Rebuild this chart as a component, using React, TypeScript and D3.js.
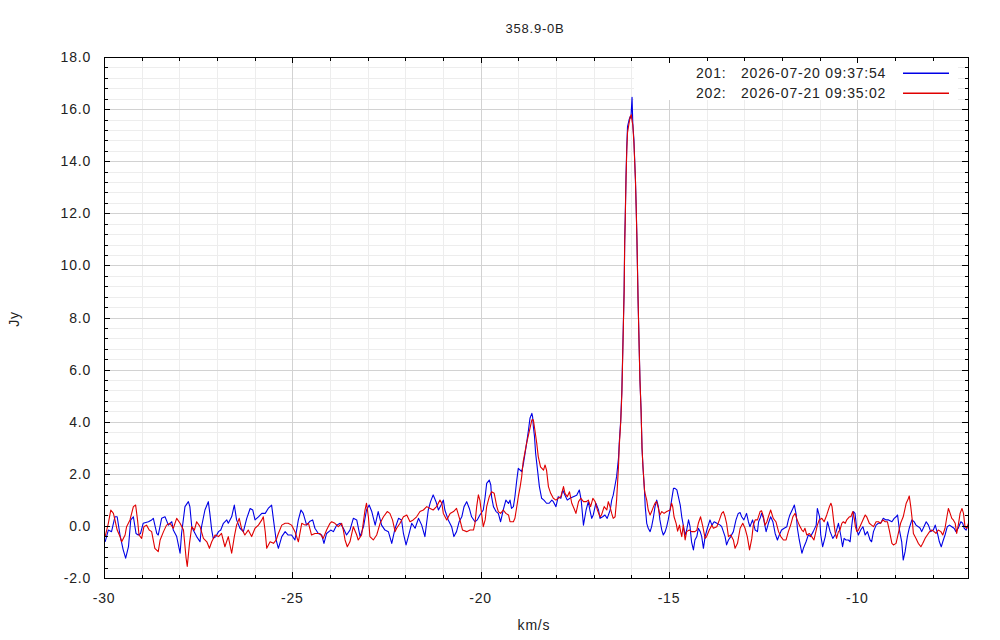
import { useRef, useEffect } from "react";
import * as d3 from "d3";

const WIDTH = 1000;
const HEIGHT = 640;
const PLOT = { left: 104, right: 968, top: 57, bottom: 578 };
const KEY_BOX = { left: 634, right: 958, top: 57, bottom: 100 };
const FONT = "'Liberation Sans', Arial, sans-serif";

const TITLE = "358.9-0B";
const X_LABEL = "km/s";
const Y_LABEL = "Jy";
const X_DOMAIN: [number, number] = [-30, -7.06];
const Y_DOMAIN: [number, number] = [-2, 18];
const X_TICKS = [-30, -25, -20, -15, -10];
const Y_TICKS = [-2, 0, 2, 4, 6, 8, 10, 12, 14, 16, 18];

const SCAN_IDS = ["201:", "202:"];
const SCAN_TIMES = ["2026-07-20 09:37:54", "2026-07-21 09:35:02"];
const SCAN_COLORS = ["#0000e6", "#e00000"];

// [velocity km/s, flux Jy]
const scan201: [number, number][] = [
  [-29.97,-0.61],[-29.885,-0.16],[-29.8,-0.22],[-29.71,0.35],[-29.65,0.35],[-29.575,-0.35],[-29.49,-0.92],[-29.425,-1.24],
  [-29.35,-0.8],[-29.29,0.23],[-29.22,0.35],[-29.15,-0.29],[-29.09,-0.35],[-29.03,-0.29],[-28.96,0.1],[-28.82,0.16],
  [-28.735,0.23],[-28.69,0.29],[-28.6,-0.29],[-28.56,-0.35],[-28.47,0.29],[-28.38,0.35],[-28.29,0.03],[-28.2,0.16],
  [-28.16,-0.16],[-28.07,-0.41],[-27.98,-1.05],[-27.94,-0.29],[-27.85,0.74],[-27.76,0.93],[-27.72,0.74],[-27.67,-0.03],
  [-27.63,-0.16],[-27.54,-0.41],[-27.45,-0.61],[-27.41,-0.03],[-27.32,0.61],[-27.23,0.93],[-27.19,0.48],[-27.14,-0.16],
  [-27.1,-0.48],[-27.03,-0.41],[-26.96,-0.22],[-26.9,-0.16],[-26.83,0.1],[-26.74,0.23],[-26.7,0.1],[-26.61,0.35],
  [-26.54,0.8],[-26.48,0.23],[-26.39,-0.09],[-26.3,-0.22],[-26.21,0.29],[-26.12,0.67],[-26.05,0.61],[-25.99,0.23],
  [-25.9,0.35],[-25.81,0.48],[-25.72,0.48],[-25.64,0.67],[-25.55,0.8],[-25.5,0.23],[-25.43,-0.54],[-25.37,-0.86],
  [-25.28,-0.41],[-25.19,-0.22],[-25.11,-0.35],[-25.02,-0.35],[-24.93,-0.54],[-24.84,0.23],[-24.77,0.61],[-24.71,0.48],
  [-24.62,0.03],[-24.53,0.18],[-24.46,0.23],[-24.4,-0.09],[-24.31,-0.29],[-24.22,-0.35],[-24.16,-0.67],[-24.09,-0.29],
  [-23.98,-0.16],[-23.91,-0.22],[-23.82,0.03],[-23.73,0.1],[-23.645,-0.09],[-23.56,-0.35],[-23.47,-0.16],[-23.38,0.29],
  [-23.29,0.23],[-23.2,-0.41],[-23.11,-0.03],[-23.03,0.61],[-22.96,0.8],[-22.89,0.55],[-22.8,0.03],[-22.72,0.55],
  [-22.63,0.03],[-22.54,-0.16],[-22.45,-0.22],[-22.36,-0.67],[-22.27,-0.09],[-22.18,0.29],[-22.1,0.23],[-22.05,-0.29],
  [-21.98,-0.73],[-21.92,-0.41],[-21.83,0.1],[-21.74,-0.09],[-21.65,0.29],[-21.565,0.03],[-21.48,-0.41],[-21.39,0.61],
  [-21.33,0.93],[-21.26,1.19],[-21.185,0.93],[-21.12,0.61],[-21.05,0.8],[-20.99,0.99],[-20.95,0.61],[-20.86,0.23],
  [-20.77,-0.03],[-20.71,-0.41],[-20.64,-0.22],[-20.57,0.16],[-20.5,0.35],[-20.44,0.74],[-20.37,0.93],[-20.3,0.67],
  [-20.24,0.35],[-20.15,0.16],[-20.09,0.23],[-20.02,0.42],[-19.93,0.61],[-19.88,1.12],[-19.84,1.63],[-19.77,1.76],
  [-19.73,1.57],[-19.71,1.12],[-19.66,0.74],[-19.59,0.55],[-19.53,0.48],[-19.47,0.16],[-19.4,0.61],[-19.33,0.99],
  [-19.26,0.86],[-19.22,0.99],[-19.18,0.67],[-19.13,0.74],[-19.09,1.12],[-19.04,1.76],[-19.0,2.21],[-18.95,2.14],
  [-18.91,2.08],[-18.87,2.34],[-18.82,2.79],[-18.78,3.17],[-18.73,3.68],[-18.69,4.13],[-18.64,4.32],[-18.62,4.19],
  [-18.6,3.81],[-18.57,3.43],[-18.54,2.79],[-18.49,2.15],[-18.44,1.51],[-18.38,1.06],[-18.32,0.99],[-18.25,0.87],
  [-18.18,0.87],[-18.11,0.99],[-18.07,0.93],[-18.0,0.74],[-17.94,1.12],[-17.87,1.06],[-17.82,1.38],[-17.76,1.18],
  [-17.7,0.99],[-17.63,1.06],[-17.54,1.12],[-17.45,1.18],[-17.38,1.38],[-17.33,0.99],[-17.27,0.03],[-17.2,0.61],
  [-17.14,0.93],[-17.1,0.61],[-17.05,0.29],[-17.01,0.42],[-16.94,0.87],[-16.87,0.61],[-16.83,0.29],[-16.76,0.35],
  [-16.7,0.42],[-16.64,0.29],[-16.56,0.61],[-16.52,0.99],[-16.48,1.18],[-16.43,1.57],[-16.39,1.89],[-16.34,2.59],
  [-16.32,3.17],[-16.28,4.07],[-16.25,5.22],[-16.23,6.5],[-16.21,7.78],[-16.19,9.06],[-16.175,10.97],[-16.16,11.87],
  [-16.14,13.41],[-16.12,14.56],[-16.1,15.33],[-16.06,15.58],[-16.03,15.71],[-16.01,15.65],[-15.98,16.45],[-15.96,15.45],
  [-15.93,14.81],[-15.89,13.28],[-15.87,12.25],[-15.85,10.97],[-15.82,8.67],[-15.795,7.14],[-15.77,5.6],[-15.74,4.45],
  [-15.715,2.98],[-15.69,2.27],[-15.65,1.38],[-15.63,0.74],[-15.59,0.1],[-15.55,-0.09],[-15.5,-0.22],[-15.46,-0.03],
  [-15.41,0.35],[-15.37,0.74],[-15.325,0.99],[-15.28,0.74],[-15.24,0.23],[-15.19,-0.16],[-15.15,-0.35],[-15.1,-0.22],
  [-15.06,-0.03],[-15.02,0.23],[-14.97,0.61],[-14.93,0.99],[-14.88,1.44],[-14.84,1.44],[-14.79,1.38],[-14.75,1.12],
  [-14.7,0.8],[-14.66,0.35],[-14.62,0.03],[-14.57,-0.35],[-14.53,-0.16],[-14.48,0.23],[-14.44,-0.03],[-14.4,-0.61],
  [-14.35,-0.92],[-14.31,-0.54],[-14.26,-0.41],[-14.22,-0.09],[-14.17,-0.22],[-14.13,-0.41],[-14.085,-0.86],[-14.04,-0.41],
  [-13.98,-0.09],[-13.91,0.23],[-13.86,0.03],[-13.8,0.16],[-13.73,0.1],[-13.64,0.03],[-13.6,-0.03],[-13.555,-0.22],
  [-13.51,-0.41],[-13.47,-0.73],[-13.42,-0.54],[-13.36,-0.41],[-13.29,-0.22],[-13.22,0.23],[-13.16,0.48],[-13.11,0.51],
  [-13.07,0.35],[-13.01,0.23],[-12.94,0.48],[-12.89,0.16],[-12.85,-0.03],[-12.78,0.23],[-12.71,-0.16],[-12.65,-0.22],
  [-12.62,0.16],[-12.58,0.29],[-12.54,0.48],[-12.49,0.29],[-12.42,-0.22],[-12.36,0.1],[-12.3,0.35],[-12.24,0.16],
  [-12.18,-0.29],[-12.12,-0.54],[-12.07,-0.35],[-12.01,-0.16],[-11.94,-0.09],[-11.87,-0.03],[-11.83,0.23],[-11.79,0.42],
  [-11.71,0.67],[-11.67,0.8],[-11.62,0.42],[-11.59,-0.09],[-11.54,-0.54],[-11.47,-1.05],[-11.43,-0.86],[-11.36,-0.61],
  [-11.3,-0.35],[-11.24,-0.41],[-11.17,-0.22],[-11.09,0.03],[-11.06,0.67],[-11.0,0.35],[-10.97,-0.35],[-10.92,-0.8],
  [-10.85,-0.41],[-10.79,0.16],[-10.72,-0.22],[-10.65,-0.48],[-10.59,-0.35],[-10.55,-0.16],[-10.5,0.1],[-10.44,-0.35],
  [-10.39,-0.8],[-10.35,-0.48],[-10.3,-0.54],[-10.24,-0.54],[-10.19,-0.61],[-10.15,-0.03],[-10.1,0.55],[-10.06,0.48],
  [-10.01,-0.16],[-9.97,-0.35],[-9.91,-0.16],[-9.85,-0.03],[-9.79,-0.35],[-9.73,-0.22],[-9.66,-0.54],[-9.62,-0.61],
  [-9.57,-0.22],[-9.5,0.03],[-9.44,0.1],[-9.38,0.1],[-9.31,0.29],[-9.24,0.23],[-9.17,0.23],[-9.08,0.16],
  [-9.02,0.29],[-8.97,0.35],[-8.93,0.42],[-8.88,-0.16],[-8.82,-0.61],[-8.78,-1.31],[-8.73,-0.99],[-8.67,-0.41],
  [-8.62,-0.09],[-8.55,0.23],[-8.49,0.16],[-8.44,0.03],[-8.38,-0.03],[-8.33,-0.09],[-8.29,-0.22],[-8.23,-0.03],
  [-8.17,0.16],[-8.11,0.03],[-8.05,-0.22],[-7.98,-0.16],[-7.93,0.03],[-7.87,-0.29],[-7.82,-0.61],[-7.77,-0.8],
  [-7.73,-0.61],[-7.67,-0.35],[-7.61,-0.03],[-7.55,0.03],[-7.49,-0.03],[-7.43,-0.09],[-7.38,-0.22],[-7.32,-0.09],
  [-7.25,0.16],[-7.2,0.1],[-7.16,-0.09],[-7.11,-0.16],[-7.08,-0.03],
];

const scan202: [number, number][] = [
  [-29.97,-0.41],[-29.885,0.1],[-29.82,0.61],[-29.75,0.48],[-29.71,0.23],[-29.65,-0.16],[-29.575,-0.41],[-29.53,-0.61],
  [-29.44,-0.35],[-29.4,-0.03],[-29.31,0.23],[-29.22,0.74],[-29.16,0.8],[-29.11,0.23],[-29.07,-0.35],[-29.0,-0.48],
  [-28.94,-0.03],[-28.87,0.03],[-28.8,-0.16],[-28.735,-0.22],[-28.65,-0.86],[-28.56,-0.99],[-28.51,-0.54],[-28.42,-0.22],
  [-28.34,0.03],[-28.25,0.1],[-28.16,-0.09],[-28.07,0.29],[-27.98,0.1],[-27.89,-0.16],[-27.82,-1.24],[-27.79,-1.56],
  [-27.73,-0.67],[-27.67,-0.03],[-27.6,-0.16],[-27.54,0.16],[-27.45,-0.03],[-27.36,-0.48],[-27.27,-0.61],[-27.2,-0.86],
  [-27.14,-0.61],[-27.05,-0.35],[-26.96,-0.41],[-26.88,-0.29],[-26.79,-0.8],[-26.7,-0.41],[-26.61,-1.05],[-26.54,-0.41],
  [-26.48,0.03],[-26.41,0.29],[-26.35,-0.09],[-26.26,-0.35],[-26.17,-0.16],[-26.08,-0.41],[-25.99,-0.09],[-25.9,0.03],
  [-25.81,0.23],[-25.77,0.35],[-25.72,-0.22],[-25.68,-0.86],[-25.59,-0.61],[-25.5,-0.67],[-25.43,-0.54],[-25.37,-0.29],
  [-25.28,0.03],[-25.19,0.1],[-25.11,0.1],[-25.02,0.03],[-24.93,-0.22],[-24.84,-0.61],[-24.75,0.1],[-24.66,0.03],
  [-24.57,0.1],[-24.49,-0.35],[-24.4,-0.29],[-24.265,-0.29],[-24.18,-0.48],[-24.09,-0.16],[-24.0,0.1],[-23.955,0.16],
  [-23.87,0.1],[-23.78,-0.03],[-23.69,0.1],[-23.645,-0.16],[-23.6,-0.54],[-23.54,-0.8],[-23.47,-0.61],[-23.38,-0.03],
  [-23.29,-0.35],[-23.25,-0.54],[-23.16,-0.35],[-23.07,0.61],[-23.03,0.87],[-22.98,0.35],[-22.94,-0.41],[-22.85,-0.54],
  [-22.76,-0.35],[-22.67,0.1],[-22.58,0.35],[-22.48,0.55],[-22.41,0.48],[-22.34,0.23],[-22.27,-0.22],[-22.23,-0.09],
  [-22.14,0.1],[-22.05,0.35],[-21.96,0.42],[-21.875,0.16],[-21.79,0.23],[-21.7,0.35],[-21.61,0.55],[-21.52,0.61],
  [-21.43,0.74],[-21.34,0.67],[-21.26,0.61],[-21.17,0.74],[-21.08,0.99],[-21.03,0.87],[-20.99,0.48],[-20.9,0.23],
  [-20.81,0.48],[-20.72,0.55],[-20.64,0.67],[-20.55,0.23],[-20.48,-0.16],[-20.37,-0.22],[-20.28,-0.16],[-20.19,-0.16],
  [-20.15,0.1],[-20.105,0.74],[-20.06,1.19],[-20.02,0.99],[-19.97,0.42],[-19.93,-0.03],[-19.88,0.23],[-19.84,0.74],
  [-19.77,1.12],[-19.71,1.31],[-19.64,1.25],[-19.57,0.74],[-19.53,0.55],[-19.47,0.48],[-19.4,0.61],[-19.33,0.48],
  [-19.26,0.42],[-19.22,0.16],[-19.13,0.16],[-19.09,0.29],[-19.04,0.74],[-19.0,1.12],[-18.95,1.51],[-18.91,1.89],
  [-18.87,2.47],[-18.78,3.17],[-18.71,3.62],[-18.64,4.07],[-18.6,4.07],[-18.56,3.68],[-18.51,3.17],[-18.47,2.66],
  [-18.41,2.27],[-18.33,2.14],[-18.29,2.34],[-18.25,2.14],[-18.2,1.51],[-18.14,1.25],[-18.07,1.06],[-18.0,0.99],
  [-17.94,1.06],[-17.87,1.12],[-17.8,1.51],[-17.76,1.25],[-17.7,1.12],[-17.64,1.31],[-17.58,0.87],[-17.52,0.67],
  [-17.47,0.48],[-17.4,0.93],[-17.34,1.06],[-17.27,0.93],[-17.2,0.93],[-17.14,0.99],[-17.08,0.74],[-17.02,1.06],
  [-16.96,0.93],[-16.9,0.61],[-16.83,0.35],[-16.79,0.42],[-16.72,0.74],[-16.65,0.61],[-16.61,0.93],[-16.565,0.74],
  [-16.52,0.48],[-16.48,0.29],[-16.43,0.35],[-16.39,0.99],[-16.34,2.27],[-16.32,3.05],[-16.28,4.0],[-16.25,5.1],
  [-16.23,6.4],[-16.21,7.7],[-16.19,9.0],[-16.175,10.8],[-16.16,11.8],[-16.14,13.3],[-16.12,14.4],[-16.1,15.1],
  [-16.06,15.45],[-16.03,15.7],[-16.0,15.78],[-15.98,15.55],[-15.96,15.4],[-15.93,14.7],[-15.89,13.3],[-15.87,12.2],
  [-15.85,11.0],[-15.82,8.7],[-15.795,7.1],[-15.77,5.6],[-15.74,4.4],[-15.715,3.0],[-15.69,2.27],[-15.65,1.38],
  [-15.635,1.25],[-15.59,0.99],[-15.55,0.61],[-15.5,0.42],[-15.46,0.55],[-15.41,0.74],[-15.37,0.87],[-15.33,0.93],
  [-15.28,0.67],[-15.24,0.42],[-15.19,0.55],[-15.13,0.48],[-15.06,0.55],[-14.97,0.61],[-14.93,0.87],[-14.9,0.74],
  [-14.865,0.35],[-14.81,0.1],[-14.77,-0.2],[-14.72,0.03],[-14.69,-0.22],[-14.66,-0.41],[-14.62,0.03],[-14.57,-0.54],
  [-14.53,-0.22],[-14.46,-0.16],[-14.4,-0.22],[-14.31,-0.22],[-14.26,-0.16],[-14.22,0.1],[-14.16,0.35],[-14.1,-0.03],
  [-14.04,-0.48],[-14.0,-0.41],[-13.93,-0.16],[-13.86,0.03],[-13.82,-0.09],[-13.73,-0.03],[-13.66,0.23],[-13.6,0.48],
  [-13.555,0.55],[-13.51,0.35],[-13.47,0.1],[-13.42,-0.41],[-13.36,-0.35],[-13.29,-0.54],[-13.245,-0.86],[-13.18,-0.67],
  [-13.11,-0.09],[-13.04,0.1],[-12.98,-0.09],[-12.92,-0.41],[-12.86,-0.92],[-12.8,-0.48],[-12.76,0.03],[-12.71,0.23],
  [-12.65,0.23],[-12.58,0.55],[-12.54,0.58],[-12.49,0.35],[-12.45,0.03],[-12.4,0.16],[-12.36,0.35],[-12.3,0.61],
  [-12.23,0.29],[-12.16,0.16],[-12.09,-0.22],[-12.03,-0.41],[-11.96,-0.54],[-11.89,-0.54],[-11.83,-0.22],[-11.77,0.03],
  [-11.71,0.35],[-11.65,0.48],[-11.61,0.29],[-11.54,0.03],[-11.47,-0.16],[-11.43,-0.22],[-11.39,-0.09],[-11.34,-0.35],
  [-11.27,-0.29],[-11.21,-0.41],[-11.15,-0.54],[-11.09,-0.16],[-11.06,0.03],[-11.01,0.23],[-10.94,0.29],[-10.88,0.16],
  [-10.81,0.42],[-10.74,0.74],[-10.7,0.87],[-10.67,0.74],[-10.63,0.23],[-10.59,-0.22],[-10.55,-0.48],[-10.5,-0.22],
  [-10.46,-0.16],[-10.41,0.1],[-10.37,0.16],[-10.32,0.1],[-10.28,0.23],[-10.21,0.35],[-10.17,0.35],[-10.12,0.55],
  [-10.08,0.29],[-10.05,-0.03],[-10.01,-0.22],[-9.97,-0.16],[-9.93,-0.03],[-9.85,0.23],[-9.79,0.42],[-9.75,0.35],
  [-9.68,0.1],[-9.62,0.03],[-9.57,-0.03],[-9.5,0.16],[-9.44,0.16],[-9.38,0.1],[-9.32,0.23],[-9.26,0.16],
  [-9.2,0.16],[-9.15,-0.16],[-9.08,-0.67],[-9.04,-0.73],[-8.97,-0.67],[-8.91,-0.29],[-8.85,0.1],[-8.78,0.35],
  [-8.7,0.87],[-8.64,1.06],[-8.62,1.15],[-8.58,0.74],[-8.54,0.23],[-8.51,-0.29],[-8.44,-0.48],[-8.38,-0.67],
  [-8.31,-0.8],[-8.26,-0.67],[-8.2,-0.48],[-8.14,-0.35],[-8.08,-0.22],[-8.02,-0.16],[-7.96,-0.22],[-7.91,-0.29],
  [-7.85,-0.16],[-7.78,-0.22],[-7.73,-0.35],[-7.67,-0.09],[-7.62,0.35],[-7.58,0.67],[-7.55,0.55],[-7.49,0.29],
  [-7.45,0.23],[-7.4,0.1],[-7.36,-0.29],[-7.31,0.1],[-7.27,0.48],[-7.22,0.67],[-7.18,0.48],[-7.14,-0.03],
  [-7.09,-0.09],[-7.05,0.1],
];

const SERIES = [scan201, scan202];

export default function App() {
  const svgRef = useRef<SVGSVGElement>(null);

  useEffect(() => {
    const svg = d3.select(svgRef.current);
    svg.selectAll("*").remove();

    const x = d3.scaleLinear().domain(X_DOMAIN).range([PLOT.left, PLOT.right]);
    const y = d3.scaleLinear().domain(Y_DOMAIN).range([PLOT.bottom, PLOT.top]);

    const xMinor = d3.range(X_DOMAIN[0], X_DOMAIN[1], 1).filter((v) => !X_TICKS.includes(v));
    const yMinor = d3.range(0, 50).map((i) => Y_DOMAIN[0] + i * 0.4).filter(
      (v) => v < Y_DOMAIN[1] - 0.01 && Math.abs(v / 2 - Math.round(v / 2)) > 0.01
    );
    const px = (v: number) => Math.round(v) + 0.5;

    svg.append("rect").attr("width", WIDTH).attr("height", HEIGHT).attr("fill", "#fff");

    // Grid lines (minor first, then major)
    const grid = svg.append("g").attr("shape-rendering", "crispEdges").attr("stroke-width", 1);
    const drawGrid = (xs: number[], ys: number[], color: string) => {
      xs.forEach((v) =>
        grid.append("line").attr("x1", px(x(v))).attr("x2", px(x(v)))
          .attr("y1", PLOT.top).attr("y2", PLOT.bottom).attr("stroke", color));
      ys.forEach((v) =>
        grid.append("line").attr("y1", px(y(v))).attr("y2", px(y(v)))
          .attr("x1", PLOT.left).attr("x2", PLOT.right).attr("stroke", color));
    };
    drawGrid(xMinor, yMinor, "#ededed");
    drawGrid(X_TICKS.slice(1), Y_TICKS.slice(1, -1), "#d2d2d2");

    // Opaque key box
    svg.append("rect")
      .attr("x", KEY_BOX.left).attr("y", KEY_BOX.top)
      .attr("width", KEY_BOX.right - KEY_BOX.left).attr("height", KEY_BOX.bottom - KEY_BOX.top)
      .attr("fill", "#fff");

    // Spectra
    svg.append("clipPath").attr("id", "plot-clip").append("rect")
      .attr("x", PLOT.left).attr("y", PLOT.top)
      .attr("width", PLOT.right - PLOT.left).attr("height", PLOT.bottom - PLOT.top);

    const line = d3.line<[number, number]>().x((d) => x(d[0])).y((d) => y(d[1]));
    const lines = svg.append("g").attr("clip-path", "url(#plot-clip)");
    SERIES.forEach((s, i) => {
      lines.append("path").datum(s).attr("d", line).attr("fill", "none")
        .attr("stroke", SCAN_COLORS[i]).attr("stroke-width", 1.1).attr("stroke-linejoin", "round");
    });

    // Border + ticks on all four sides
    const axes = svg.append("g").attr("stroke", "#000").attr("stroke-width", 1).attr("shape-rendering", "crispEdges");
    axes.append("rect")
      .attr("x", px(PLOT.left)).attr("y", px(PLOT.top))
      .attr("width", PLOT.right - PLOT.left).attr("height", PLOT.bottom - PLOT.top)
      .attr("fill", "none");

    const xTick = (v: number, len: number) => {
      const p = px(x(v));
      axes.append("line").attr("x1", p).attr("x2", p).attr("y1", PLOT.bottom).attr("y2", PLOT.bottom - len);
      axes.append("line").attr("x1", p).attr("x2", p).attr("y1", PLOT.top).attr("y2", PLOT.top + len);
    };
    const yTick = (v: number, len: number) => {
      const p = px(y(v));
      axes.append("line").attr("y1", p).attr("y2", p).attr("x1", PLOT.left).attr("x2", PLOT.left + len);
      axes.append("line").attr("y1", p).attr("y2", p).attr("x1", PLOT.right).attr("x2", PLOT.right - len);
    };
    X_TICKS.forEach((v) => xTick(v, 6));
    xMinor.forEach((v) => xTick(v, 3.5));
    Y_TICKS.forEach((v) => yTick(v, 6));
    yMinor.forEach((v) => yTick(v, 3.5));

    // Labels
    const text = svg.append("g").attr("font-family", FONT).attr("fill", "#222")
      .attr("font-size", 14).attr("letter-spacing", 0.8);

    Y_TICKS.forEach((v) =>
      text.append("text").attr("x", 91).attr("y", y(v) + 5).attr("text-anchor", "end").text(v.toFixed(1)));
    X_TICKS.forEach((v) =>
      text.append("text").attr("x", x(v)).attr("y", 603).attr("text-anchor", "middle").text(String(v)));

    text.append("text").attr("x", 535).attr("y", 33).attr("text-anchor", "middle")
      .attr("font-size", 13).text(TITLE);
    text.append("text").attr("x", 534).attr("y", 630).attr("text-anchor", "middle").text(X_LABEL);
    text.append("text").attr("transform", "translate(19,319) rotate(-90)")
      .attr("text-anchor", "middle").text(Y_LABEL);

    // Key: sample strokes as thin filled bars
    SCAN_IDS.forEach((id, i) => {
      const yy = 73 + i * 19.5;
      text.append("text").attr("x", 696).attr("y", yy + 5).text(id);
      text.append("text").attr("x", 741).attr("y", yy + 5).text(SCAN_TIMES[i]);
      svg.append("rect")
        .attr("x", 903).attr("y", Math.round(yy) - 0.5)
        .attr("width", 46).attr("height", 1.5)
        .attr("fill", SCAN_COLORS[i]);
    });
  }, []);

  return (
    <svg
      ref={svgRef}
      width={WIDTH}
      height={HEIGHT}
      viewBox={`0 0 ${WIDTH} ${HEIGHT}`}
      style={{ position: "absolute", left: 0, top: 0 }}
    />
  );
}
